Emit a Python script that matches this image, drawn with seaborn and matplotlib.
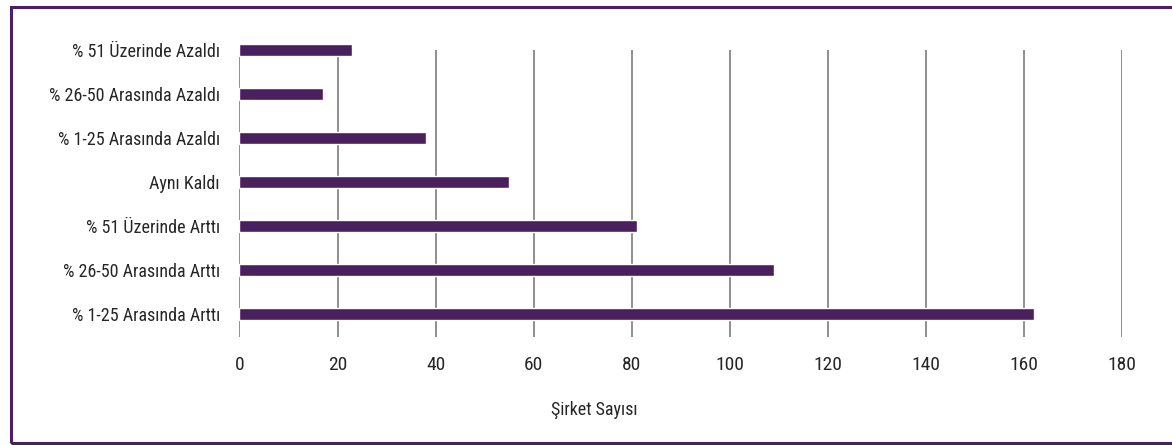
import matplotlib
matplotlib.use("Agg")
import matplotlib.pyplot as plt
from matplotlib import font_manager
from matplotlib.patches import Rectangle
import seaborn as sns
import pandas as pd

# Survey answers, top to bottom as drawn
categories = [
    "% 51 Üzerinde Azaldı",
    "% 26-50 Arasında Azaldı",
    "% 1-25 Arasında Azaldı",
    "Aynı Kaldı",
    "% 51 Üzerinde Arttı",
    "% 26-50 Arasında Arttı",
    "% 1-25 Arasında Arttı",
]
company_counts = [23, 17, 38, 55, 81, 109, 162]
x_ticks = [0, 20, 40, 60, 80, 100, 120, 140, 160, 180]
x_label = "Şirket Sayısı"

BAR_COLOR = "#4b1f5e"
FRAME_COLOR = "#4b2063"
TEXT_COLOR = "#262626"
GRID_COLOR = "#707070"

sns.set_theme(style="white")

# Prefer a narrow / condensed sans face for the labels
fonts = font_manager.fontManager.ttflist
family, stretch = "DejaVu Sans", "normal"
for want in ["Liberation Sans Narrow", "Roboto Condensed", "Open Sans Condensed"]:
    if any(f.name == want for f in fonts):
        family = want
        break
else:
    cond = [f for f in fonts if str(f.stretch) in ("condensed", "semi-condensed", "extra-condensed")
            or "Condensed" in f.name or "Narrow" in f.name]
    if cond:
        family, stretch = cond[0].name, cond[0].stretch
plt.rcParams["font.family"] = [family, "DejaVu Sans"]
plt.rcParams["font.stretch"] = stretch

df = pd.DataFrame({"kategori": categories, "sayi": company_counts})

fig = plt.figure(figsize=(11.72, 4.45), dpi=100)
ax = fig.add_axes([239.5 / 1172, 1 - 337 / 445, (1122 - 239.5) / 1172, (337 - 50) / 445])

sns.barplot(data=df, x="sayi", y="kategori", order=categories, orient="h",
            color=BAR_COLOR, saturation=1, width=0.28, ax=ax, zorder=3)
for bar in ax.patches:
    bar.set_clip_on(False)

ax.set_xlim(0, 180)
ax.set_ylim(6.52, 0.0)
ax.set_xticks(x_ticks)
ax.set_xticklabels([str(t) for t in x_ticks])
ax.set_xlabel("")
ax.set_ylabel("")
for s in ax.spines.values():
    s.set_visible(False)
ax.grid(axis="x", color=GRID_COLOR, linewidth=1.1, zorder=0)
ax.grid(axis="y", visible=False)
ax.set_axisbelow(True)
ax.tick_params(axis="x", length=0, pad=14, labelsize=14, labelcolor=TEXT_COLOR)
ax.tick_params(axis="y", length=0, pad=14, labelsize=13, labelcolor=TEXT_COLOR)

fig.text(594 / 1172, 1 - 410 / 445, x_label, ha="center", va="center",
         fontsize=13, color=TEXT_COLOR)

# Purple frame around the chart (open on the right edge)
fig.patches.append(Rectangle((10.5 / 1172, 2.5 / 445), 1.05, (443 - 7) / 445,
                             transform=fig.transFigure, fill=False,
                             edgecolor=FRAME_COLOR, linewidth=2.2, clip_on=False))

fig.savefig("out.png", dpi=100, facecolor="white")
